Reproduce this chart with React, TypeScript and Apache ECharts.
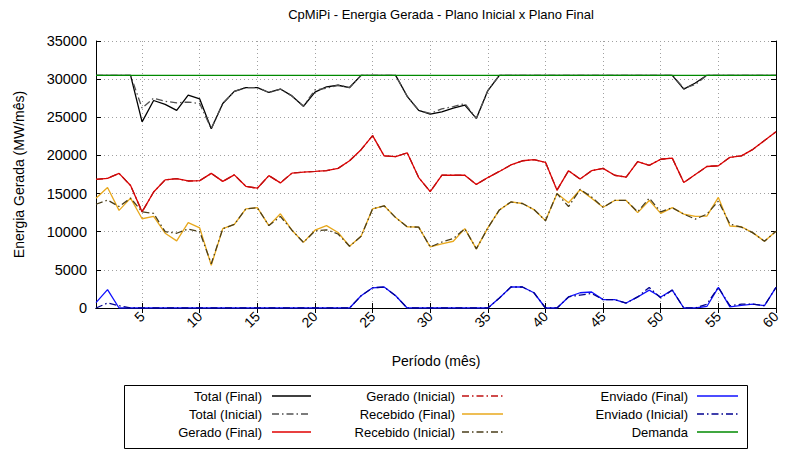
import React, { useEffect, useRef } from "react";
import * as echarts from "echarts";

const periods: string[] = [];
for (let i = 1; i <= 60; i++) periods.push(String(i));

const totalFinal = [
  30500, 30500, 30500, 30500, 24400, 27200, 26700, 25900, 27900, 27400,
  23500, 26800, 28400, 28900, 28900, 28250, 28700, 27800, 26450, 28300,
  29000, 29200, 28900, 30500, 30500, 30500, 30500, 27750, 25900, 25400,
  25700, 26200, 26600, 24850, 28500, 30500, 30500, 30500, 30500, 30500,
  30500, 30500, 30500, 30500, 30500, 30500, 30500, 30500, 30500, 30500,
  30500, 28700, 29500, 30500, 30500, 30500, 30500, 30500, 30500, 30500,
];
const totalInicial = [
  30500, 30500, 30500, 30500, 26200, 27500, 27100, 26900, 27000, 26800,
  23500, 26800, 28400, 28900, 28900, 28250, 28700, 27800, 26450, 28600,
  28800, 29200, 28900, 30500, 30500, 30500, 30500, 27750, 25900, 25500,
  26100, 26400, 26800, 24850, 28500, 30500, 30500, 30500, 30500, 30500,
  30500, 30500, 30500, 30500, 30500, 30500, 30500, 30500, 30500, 30500,
  30500, 28800, 29300, 30500, 30500, 30500, 30500, 30500, 30500, 30500,
];
const geradoFinal = [
  16850, 17000, 17650, 16050, 12600, 15200, 16800, 16950, 16650, 16700,
  17650, 16600, 17450, 15950, 15700, 17350, 16400, 17680, 17820, 17900,
  18000, 18300, 19300, 20750, 22600, 19950, 19850, 20350, 17100, 15250,
  17400, 17400, 17400, 16200, 17100, 17900, 18750, 19300, 19450, 19100,
  15450, 18000, 16900, 18000, 18300, 17400, 17150, 19200, 18700, 19500,
  19650, 16450, 17500, 18550, 18650, 19750, 19950, 20800, 21950, 23100,
];
const geradoInicial = [
  16850, 17000, 17650, 16050, 12600, 15200, 16800, 16950, 16650, 16700,
  17650, 16600, 17450, 15950, 15700, 17350, 16400, 17680, 17820, 17900,
  18000, 18300, 19300, 20750, 22600, 19950, 19850, 20350, 17100, 15250,
  17400, 17400, 17400, 16200, 17100, 17900, 18750, 19300, 19450, 19100,
  15450, 18000, 16900, 18000, 18300, 17400, 17150, 19200, 18700, 19500,
  19650, 16450, 17500, 18550, 18650, 19750, 19950, 20800, 21950, 23100,
];
const recebidoFinal = [
  14400, 15800, 12800, 14400, 11700, 12000, 9800, 8800, 11200, 10500,
  5600, 10400, 10950, 13000, 13150, 10800, 12350, 10200, 8600, 10200,
  10800, 9900, 8100, 9400, 13000, 13400, 11850, 10650, 10600, 8000,
  8400, 8750, 10400, 7750, 10500, 12850, 13900, 13700, 12900, 11450,
  15000, 13800, 15500, 14400, 13200, 14100, 14100, 12500, 14100, 12400,
  13150, 12300, 12000, 12050, 14500, 10750, 10650, 9850, 8750, 10050,
];
const recebidoInicial = [
  13600, 14150, 13300, 14400, 12600, 12400, 10000, 9800, 10350, 10000,
  5800, 10400, 10950, 13000, 13150, 10800, 12000, 10200, 8600, 10100,
  10250, 9700, 8100, 9400, 13000, 13400, 11850, 10650, 10600, 8000,
  8650, 9100, 10400, 7750, 10500, 12850, 13900, 13700, 12900, 11450,
  15000, 13300, 15550, 14550, 13200, 14100, 14100, 12600, 14400, 12600,
  13150, 12300, 11650, 12300, 14000, 11000, 10600, 9850, 8750, 10050,
];
const enviadoFinal = [
  700, 2400, 0, 0, 0, 0, 0, 0, 0, 0,
  0, 0, 0, 0, 0, 0, 0, 0, 0, 0,
  0, 0, 0, 1600, 2650, 2750, 1600, 0, 0, 0,
  0, 0, 0, 0, 0, 1300, 2750, 2750, 2000, 0,
  0, 1450, 2000, 2100, 1100, 1100, 650, 1450, 2350, 1450,
  2350, 0, 0, 200, 2700, 150, 350, 500, 300, 2700,
];
const enviadoInicial = [
  0, 650, 300, 0, 0, 0, 0, 0, 0, 0,
  0, 0, 0, 0, 0, 0, 0, 0, 0, 0,
  0, 0, 0, 1600, 2650, 2750, 1600, 0, 0, 0,
  0, 0, 0, 0, 0, 1300, 2750, 2750, 2000, 0,
  0, 1450, 1700, 1900, 1100, 1100, 650, 1450, 2700, 1300,
  2350, 0, 0, 500, 2700, 300, 500, 500, 300, 2700,
];
const demanda = [
  30500, 30500, 30500, 30500, 30500, 30500, 30500, 30500, 30500, 30500,
  30500, 30500, 30500, 30500, 30500, 30500, 30500, 30500, 30500, 30500,
  30500, 30500, 30500, 30500, 30500, 30500, 30500, 30500, 30500, 30500,
  30500, 30500, 30500, 30500, 30500, 30500, 30500, 30500, 30500, 30500,
  30500, 30500, 30500, 30500, 30500, 30500, 30500, 30500, 30500, 30500,
  30500, 30500, 30500, 30500, 30500, 30500, 30500, 30500, 30500, 30500,
];

const DASH = [7, 3, 1.5, 3];
const FONT = "'Liberation Sans', Arial, Helvetica, sans-serif";

type Def = { name: string; data: number[]; color: string; dash: boolean };
const defs: Def[] = [
  { name: "Total (Final)", data: totalFinal, color: "#000000", dash: false },
  { name: "Total (Inicial)", data: totalInicial, color: "#505050", dash: true },
  { name: "Gerado (Final)", data: geradoFinal, color: "#e00000", dash: false },
  { name: "Gerado (Inicial)", data: geradoInicial, color: "#c01010", dash: true },
  { name: "Recebido (Final)", data: recebidoFinal, color: "#e8a81c", dash: false },
  { name: "Recebido (Inicial)", data: recebidoInicial, color: "#4a3e1a", dash: true },
  { name: "Enviado (Final)", data: enviadoFinal, color: "#1010ff", dash: false },
  { name: "Enviado (Inicial)", data: enviadoInicial, color: "#000090", dash: true },
  { name: "Demanda", data: demanda, color: "#008a00", dash: false },
];

const isMajor = (i: number) => (i + 1) % 5 === 0;

export default function App() {
  const ref = useRef<HTMLDivElement>(null);
  useEffect(() => {
    if (!ref.current) return;
    const chart = echarts.init(ref.current, undefined, { renderer: "svg" });

    const legendCols = [
      { textRight: 262, lx1: 272, lx2: 311 },
      { textRight: 455, lx1: 462, lx2: 503 },
      { textRight: 688, lx1: 697, lx2: 738 },
    ];
    const rowsY = [396, 414, 432];
    const legendEls: any[] = [
      {
        type: "rect",
        shape: { x: 124.5, y: 385.5, width: 623, height: 63 },
        style: { fill: "#fff", stroke: "#000", lineWidth: 1 },
      },
    ];
    defs.forEach((d, i) => {
      const col = legendCols[Math.floor(i / 3)];
      const y = rowsY[i % 3];
      legendEls.push({
        type: "text",
        x: col.textRight,
        y,
        style: {
          text: d.name,
          align: "right",
          verticalAlign: "middle",
          font: `13px ${FONT}`,
          fill: "#000",
        },
      });
      legendEls.push({
        type: "line",
        shape: { x1: col.lx1, y1: y, x2: col.lx2, y2: y },
        style: { stroke: d.color, lineWidth: 1.3, lineDash: d.dash ? DASH : null },
      });
    });

    chart.setOption({
      animation: false,
      backgroundColor: "#fff",
      textStyle: { fontFamily: FONT },
      title: {
        text: "CpMiPi - Energia Gerada - Plano Inicial x Plano Final",
        left: 436,
        textAlign: "center",
        top: 3,
        textStyle: { fontSize: 13, fontWeight: "normal", color: "#000", fontFamily: FONT },
      },
      grid: { left: 96, right: 15, top: 41, bottom: 158, containLabel: false },
      xAxis: [
        {
          type: "category",
          data: periods,
          boundaryGap: false,
          name: "Período (mês)",
          nameLocation: "middle",
          nameGap: 46,
          nameTextStyle: { fontSize: 14, color: "#000", fontFamily: FONT },
          axisLine: { lineStyle: { color: "#000", width: 1 } },
          axisTick: { inside: true, length: 5, interval: (i: number) => isMajor(i), lineStyle: { color: "#000" } },
          axisLabel: {
            interval: (i: number) => isMajor(i),
            rotate: 45,
            fontSize: 14,
            color: "#000",
            margin: 6,
            fontFamily: FONT,
          },
          splitLine: {
            show: true,
            interval: (i: number) => isMajor(i),
            lineStyle: { color: "#a0a0a0", type: [1, 3], width: 1 },
          },
        },
        {
          type: "category",
          data: periods,
          boundaryGap: false,
          position: "top",
          axisLine: { lineStyle: { color: "#000", width: 1 } },
          axisTick: { inside: true, length: 5, interval: (i: number) => isMajor(i), lineStyle: { color: "#000" } },
          axisLabel: { show: false },
          splitLine: { show: false },
        },
      ],
      yAxis: [
        {
          type: "value",
          min: 0,
          max: 35000,
          interval: 5000,
          name: "Energia Gerada (MW/mês)",
          nameLocation: "middle",
          nameGap: 70,
          nameTextStyle: { fontSize: 14, color: "#000", fontFamily: FONT },
          axisLine: { show: true, lineStyle: { color: "#000", width: 1 } },
          axisTick: { show: true, inside: true, length: 5, lineStyle: { color: "#000" } },
          axisLabel: {
            fontSize: 14.5,
            color: "#000",
            margin: 9,
            fontFamily: FONT,
            formatter: (v: number) => String(v),
          },
          splitLine: { show: true, lineStyle: { color: "#a0a0a0", type: [1, 3], width: 1 } },
        },
        {
          type: "value",
          min: 0,
          max: 35000,
          interval: 5000,
          position: "right",
          axisLine: { show: true, lineStyle: { color: "#000", width: 1 } },
          axisTick: { show: true, inside: true, length: 5, lineStyle: { color: "#000" } },
          axisLabel: { show: false },
          splitLine: { show: false },
        },
      ],
      series: defs.map((d) => ({
        name: d.name,
        type: "line",
        data: d.data,
        symbol: "none",
        showSymbol: false,
        silent: true,
        lineStyle: { color: d.color, width: 1.3, type: d.dash ? DASH : "solid" },
      })),
      graphic: legendEls,
    });
    return () => chart.dispose();
  }, []);
  return <div ref={ref} style={{ width: 791, height: 466, position: "absolute", left: 0, top: 0 }} />;
}
